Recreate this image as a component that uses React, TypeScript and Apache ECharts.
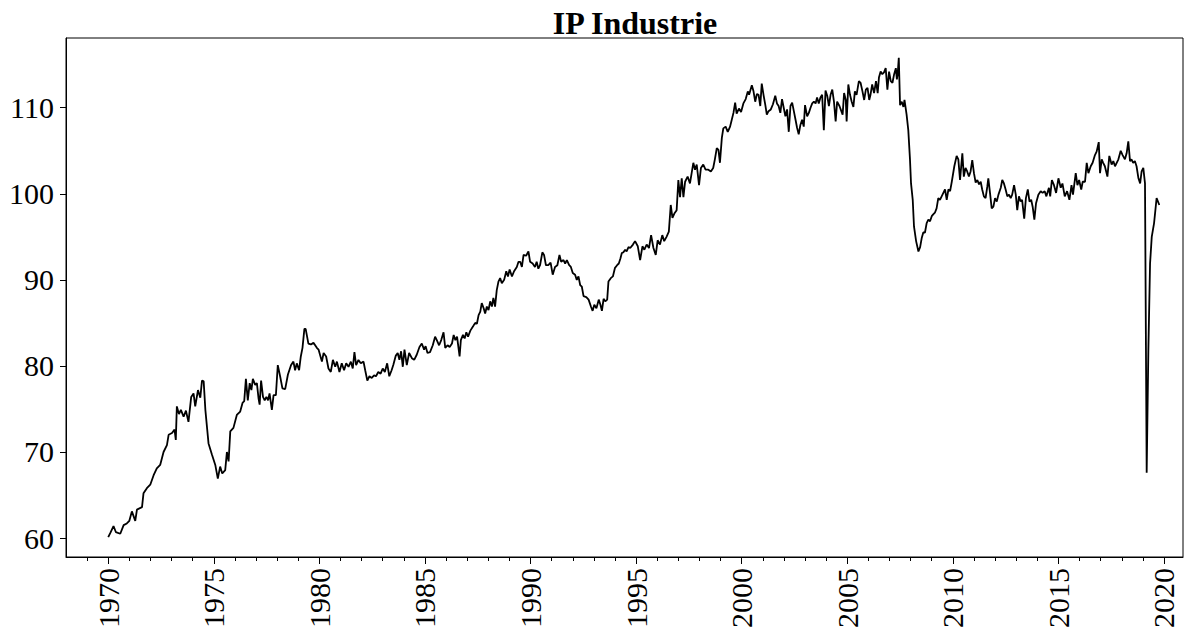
import React, { useEffect, useRef } from "react";
import * as echarts from "echarts";

const title = "IP Industrie";
const yTicks = [60, 70, 80, 90, 100, 110];
const xMajor = [1970, 1975, 1980, 1985, 1990, 1995, 2000, 2005, 2010, 2015, 2020];
const xMinor = Array.from({ length: 52 }, (_, i) => 1969 + i).filter((y) => y % 5 !== 0);

// [fractional year on the axis, index value]
const seg1970s: [number, number][] = [
  [1970.0, 60.1], [1970.1, 60.6], [1970.25, 61.4], [1970.36, 60.7], [1970.57, 60.5], [1970.73, 61.5],
  [1970.88, 61.7], [1971.0, 62.0], [1971.12, 63.1], [1971.28, 62.0], [1971.36, 63.3], [1971.6, 63.6],
  [1971.67, 65.2], [1971.83, 65.8], [1971.99, 66.2], [1972.15, 67.3], [1972.3, 68.1], [1972.46, 68.5],
  [1972.62, 70.0], [1972.78, 70.8], [1972.86, 72.0], [1973.02, 72.2], [1973.14, 72.6], [1973.2, 71.4],
  [1973.25, 75.3], [1973.35, 74.4], [1973.44, 74.9], [1973.57, 74.1], [1973.68, 74.8], [1973.8, 73.5],
  [1973.93, 76.4], [1974.04, 76.8], [1974.12, 75.3], [1974.25, 77.2], [1974.36, 76.3], [1974.44, 78.3],
  [1974.52, 78.2], [1974.6, 74.9], [1974.75, 71.0], [1974.91, 69.7], [1975.07, 68.5], [1975.19, 66.9],
  [1975.3, 68.3], [1975.4, 67.5], [1975.54, 67.9], [1975.62, 70.0], [1975.7, 68.9], [1975.78, 72.4],
  [1975.93, 72.8], [1976.09, 74.3], [1976.25, 74.7], [1976.36, 75.7], [1976.44, 75.9], [1976.52, 78.5],
  [1976.61, 76.0], [1976.7, 78.0], [1976.78, 77.2], [1976.85, 78.5], [1976.96, 77.8], [1977.04, 78.0],
  [1977.12, 76.2], [1977.17, 75.5], [1977.24, 78.3], [1977.33, 76.4], [1977.41, 76.0], [1977.49, 76.4],
  [1977.57, 76.0], [1977.64, 76.8], [1977.75, 74.9], [1977.83, 76.6], [1977.94, 76.6], [1978.03, 80.1],
  [1978.14, 78.8], [1978.25, 77.4], [1978.38, 77.3], [1978.51, 79.0], [1978.66, 80.1], [1978.77, 80.5],
  [1978.85, 79.5], [1978.93, 80.3], [1979.04, 79.5], [1979.12, 81.1], [1979.2, 82.1], [1979.29, 84.3],
  [1979.35, 84.3], [1979.48, 82.6], [1979.6, 82.5], [1979.72, 82.7], [1979.88, 82.1],
];

const seg1980s: [number, number][] = [
  [1979.96, 81.9], [1980.12, 80.5], [1980.2, 81.5], [1980.32, 81.1], [1980.43, 79.7], [1980.54, 79.3],
  [1980.64, 80.7], [1980.75, 79.9], [1980.83, 80.5], [1980.95, 79.3], [1981.06, 80.3], [1981.17, 79.5],
  [1981.27, 80.3], [1981.38, 79.9], [1981.49, 80.5], [1981.58, 79.7], [1981.66, 81.6], [1981.74, 80.1],
  [1981.85, 80.7], [1981.96, 80.3], [1982.09, 80.5], [1982.17, 79.5], [1982.27, 78.3], [1982.37, 78.8],
  [1982.48, 78.6], [1982.59, 78.9], [1982.68, 78.8], [1982.79, 79.3], [1982.9, 79.1], [1983.0, 79.7],
  [1983.1, 79.3], [1983.21, 80.3], [1983.31, 78.8], [1983.42, 79.5], [1983.5, 80.1], [1983.62, 81.2],
  [1983.71, 81.5], [1983.79, 80.7], [1983.87, 81.7], [1983.95, 79.9], [1984.03, 81.9], [1984.14, 80.1],
  [1984.25, 81.5], [1984.38, 80.9], [1984.49, 80.7], [1984.61, 81.3], [1984.74, 82.2], [1984.85, 82.6],
  [1984.96, 81.9], [1985.03, 82.3], [1985.12, 81.5], [1985.24, 81.6], [1985.37, 82.4], [1985.48, 83.4],
  [1985.56, 83.0], [1985.67, 82.4], [1985.77, 83.0], [1985.88, 83.9], [1985.96, 82.1], [1986.07, 82.4],
  [1986.17, 82.2], [1986.28, 82.6], [1986.36, 83.6], [1986.44, 83.0], [1986.52, 83.4], [1986.64, 81.1],
  [1986.7, 83.0], [1986.8, 83.6], [1986.88, 83.2], [1986.96, 83.9], [1987.04, 83.4], [1987.15, 84.1],
  [1987.28, 84.6], [1987.38, 85.0], [1987.46, 84.9], [1987.54, 85.9], [1987.62, 86.3], [1987.69, 87.3],
  [1987.78, 86.7], [1987.85, 86.1], [1987.93, 86.9], [1988.01, 86.5], [1988.09, 87.5], [1988.17, 86.9],
  [1988.24, 87.9], [1988.32, 86.9], [1988.4, 88.8], [1988.48, 89.8], [1988.56, 90.2], [1988.64, 89.6],
  [1988.75, 90.0], [1988.85, 91.0], [1988.93, 90.4], [1989.01, 91.2], [1989.12, 90.4], [1989.22, 91.0],
  [1989.35, 91.5], [1989.43, 92.1],
];

const seg1990s: [number, number][] = [
  [1989.51, 92.1], [1989.59, 91.5], [1989.67, 92.9], [1989.79, 92.8], [1989.9, 93.3], [1989.98, 92.1],
  [1990.1, 91.9], [1990.21, 91.5], [1990.29, 92.1], [1990.37, 91.3], [1990.45, 91.7], [1990.56, 93.2],
  [1990.64, 92.9], [1990.73, 91.7], [1990.84, 91.7], [1990.95, 92.0], [1991.05, 90.6], [1991.16, 91.5],
  [1991.27, 91.7], [1991.37, 92.9], [1991.45, 92.1], [1991.56, 92.3], [1991.64, 91.9], [1991.72, 92.3],
  [1991.83, 91.7], [1991.91, 91.5], [1992.0, 90.8], [1992.11, 90.6], [1992.19, 90.0], [1992.27, 90.4],
  [1992.35, 89.4], [1992.43, 89.2], [1992.51, 88.1], [1992.64, 88.0], [1992.75, 87.7], [1992.86, 86.9],
  [1992.94, 86.4], [1993.02, 87.1], [1993.12, 86.7], [1993.23, 87.7], [1993.31, 87.1], [1993.38, 86.4],
  [1993.46, 87.8], [1993.54, 87.5], [1993.63, 87.7], [1993.69, 89.8], [1993.8, 90.2], [1993.9, 90.4],
  [1994.0, 91.4], [1994.1, 91.7], [1994.18, 91.9], [1994.26, 92.5], [1994.32, 93.1], [1994.4, 93.2],
  [1994.48, 93.5], [1994.55, 93.3], [1994.64, 93.8], [1994.72, 93.7], [1994.85, 94.1], [1994.95, 94.5],
  [1995.08, 93.9], [1995.19, 92.3], [1995.3, 93.9], [1995.39, 93.5], [1995.5, 94.1], [1995.61, 93.7],
  [1995.71, 95.2], [1995.82, 93.7], [1995.93, 92.9], [1996.02, 94.6], [1996.13, 94.1], [1996.24, 95.2],
  [1996.33, 94.5], [1996.44, 95.0], [1996.55, 95.6], [1996.64, 98.7], [1996.72, 97.2], [1996.81, 97.7],
  [1996.92, 98.1], [1997.0, 101.6], [1997.08, 99.6], [1997.16, 101.8], [1997.24, 99.6], [1997.32, 101.4],
  [1997.44, 102.0], [1997.55, 101.2], [1997.63, 102.4], [1997.71, 103.6], [1997.79, 102.8], [1997.87, 103.4],
  [1997.98, 101.0], [1998.07, 103.0], [1998.18, 103.4], [1998.29, 102.8], [1998.42, 102.8], [1998.54, 102.6],
  [1998.65, 103.0], [1998.73, 104.0], [1998.82, 105.3], [1998.9, 105.1], [1998.97, 103.6], [1999.06, 106.5],
  [1999.13, 107.6], [1999.24, 107.8], [1999.34, 107.2], [1999.45, 107.8], [1999.53, 108.6], [1999.61, 109.4],
  [1999.69, 110.6],
];

const seg2000s: [number, number][] = [
  [1999.76, 109.3], [1999.87, 109.9], [1999.97, 109.5], [2000.08, 110.5], [2000.19, 111.0], [2000.29, 111.9],
  [2000.35, 111.5], [2000.48, 112.6], [2000.56, 111.9], [2000.64, 110.7], [2000.72, 111.6], [2000.8, 111.5],
  [2000.88, 110.2], [2000.95, 112.8], [2001.04, 111.4], [2001.12, 110.3], [2001.19, 109.2], [2001.27, 109.6],
  [2001.38, 109.8], [2001.48, 110.4], [2001.59, 111.4], [2001.67, 110.5], [2001.75, 110.2], [2001.83, 109.4],
  [2001.91, 111.0], [2001.99, 110.0], [2002.07, 109.0], [2002.15, 109.8], [2002.23, 107.2], [2002.31, 110.2],
  [2002.39, 110.6], [2002.47, 109.6], [2002.55, 108.6], [2002.62, 107.7], [2002.7, 106.9], [2002.78, 108.0],
  [2002.86, 108.6], [2002.94, 107.8], [2003.0, 110.3], [2003.1, 109.0], [2003.18, 109.4], [2003.26, 110.0],
  [2003.34, 110.5], [2003.42, 110.7], [2003.5, 110.5], [2003.57, 111.2], [2003.65, 110.5], [2003.73, 111.2],
  [2003.81, 111.5], [2003.89, 107.4], [2003.97, 112.0], [2004.05, 111.4], [2004.13, 110.2], [2004.21, 111.5],
  [2004.29, 112.1], [2004.37, 110.7], [2004.45, 108.4], [2004.52, 110.7], [2004.63, 110.2], [2004.78, 109.2],
  [2004.85, 111.7], [2004.93, 110.9], [2004.97, 108.4], [2005.05, 112.7], [2005.13, 111.5], [2005.21, 110.7],
  [2005.29, 110.1], [2005.36, 111.9], [2005.44, 111.5], [2005.55, 113.1], [2005.63, 112.9], [2005.72, 111.9],
  [2005.8, 110.9], [2005.88, 112.1], [2005.96, 112.3], [2006.04, 110.9], [2006.1, 111.5], [2006.18, 112.7],
  [2006.27, 111.7], [2006.36, 113.1], [2006.44, 111.7], [2006.5, 113.5], [2006.58, 114.2], [2006.66, 113.9],
  [2006.74, 114.1], [2006.82, 114.6], [2006.9, 112.1], [2006.98, 114.2], [2007.06, 113.1], [2007.14, 112.9],
  [2007.22, 113.9], [2007.3, 114.6], [2007.35, 113.3], [2007.39, 114.0], [2007.44, 115.8], [2007.5, 110.3],
  [2007.58, 110.7], [2007.66, 110.1], [2007.71, 110.9], [2007.81, 109.2], [2007.89, 107.4], [2007.97, 104.0],
  [2008.02, 101.2], [2008.1, 99.3], [2008.16, 96.2], [2008.26, 94.5], [2008.37, 93.3], [2008.45, 93.8],
  [2008.53, 94.9], [2008.6, 95.5], [2008.68, 95.5], [2008.76, 96.6], [2008.84, 97.0], [2008.92, 96.8],
  [2009.0, 97.4], [2009.07, 97.6], [2009.15, 97.8], [2009.23, 98.3], [2009.31, 99.5], [2009.39, 99.3],
  [2009.47, 99.7], [2009.55, 100.1], [2009.63, 100.5], [2009.71, 99.3], [2009.79, 100.5], [2009.87, 100.3],
  [2009.95, 101.4],
];

const seg2010s: [number, number][] = [
  [2010.07, 103.2], [2010.18, 104.4], [2010.26, 104.0], [2010.34, 101.6], [2010.45, 104.7], [2010.52, 102.0],
  [2010.6, 103.0], [2010.68, 102.6], [2010.76, 102.0], [2010.84, 102.6], [2010.92, 103.9], [2011.0, 102.4],
  [2011.08, 101.3], [2011.16, 101.6], [2011.24, 101.1], [2011.32, 101.4], [2011.39, 100.5], [2011.47, 99.7],
  [2011.55, 99.5], [2011.63, 100.8], [2011.68, 101.8], [2011.76, 100.1], [2011.84, 98.3], [2011.92, 98.5],
  [2012.0, 99.5], [2012.08, 99.1], [2012.16, 99.9], [2012.27, 100.7], [2012.34, 101.6], [2012.42, 101.2],
  [2012.5, 100.5], [2012.58, 99.7], [2012.66, 99.9], [2012.74, 99.5], [2012.81, 99.9], [2012.9, 101.0],
  [2012.98, 99.9], [2013.05, 98.1], [2013.13, 99.7], [2013.21, 99.1], [2013.28, 99.3], [2013.38, 97.1],
  [2013.46, 99.5], [2013.55, 100.5], [2013.63, 99.1], [2013.71, 99.3], [2013.78, 98.5], [2013.86, 97.0],
  [2013.94, 98.9], [2014.05, 99.9], [2014.16, 100.3], [2014.25, 100.1], [2014.35, 100.3], [2014.43, 99.7],
  [2014.55, 100.7], [2014.61, 99.7], [2014.69, 101.6], [2014.79, 101.0], [2014.89, 100.1], [2015.0, 101.8],
  [2015.11, 100.7], [2015.19, 101.2], [2015.3, 99.7], [2015.41, 100.3], [2015.52, 99.3], [2015.62, 101.0],
  [2015.69, 99.9], [2015.82, 102.4], [2015.9, 101.0], [2015.98, 101.6], [2016.08, 100.5], [2016.15, 101.4],
  [2016.26, 101.4], [2016.34, 103.6], [2016.42, 102.4], [2016.53, 103.2], [2016.62, 103.6], [2016.73, 104.5],
  [2016.81, 104.9], [2016.91, 106.0], [2016.97, 102.4], [2017.05, 104.0], [2017.12, 103.6], [2017.2, 103.2],
  [2017.32, 102.0], [2017.41, 104.4], [2017.52, 103.4], [2017.6, 103.8], [2017.68, 103.2], [2017.76, 103.6],
  [2017.84, 104.0], [2017.95, 105.0], [2018.04, 104.5], [2018.15, 104.0], [2018.23, 104.7], [2018.31, 106.1],
  [2018.39, 103.8], [2018.46, 104.0], [2018.54, 103.6], [2018.62, 103.8], [2018.7, 103.2], [2018.79, 101.8],
  [2018.87, 101.2], [2018.94, 102.6], [2019.02, 103.0], [2019.1, 101.2], [2019.18, 67.6], [2019.26, 81.9],
  [2019.34, 91.9], [2019.42, 95.0], [2019.53, 96.6], [2019.65, 99.5], [2019.78, 98.7],
];

const series = [...seg1970s, ...seg1980s, ...seg1990s, ...seg2000s, ...seg2010s];

const FONT = "Liberation Serif";

export default function App() {
  const ref = useRef<HTMLDivElement>(null);
  useEffect(() => {
    if (!ref.current) return;
    const chart = echarts.init(ref.current, null, { renderer: "svg" });
    const xMin = 1968.0;
    const xMax = 2020.9;
    chart.setOption({
      animation: false,
      backgroundColor: "#ffffff",
      title: {
        text: title,
        left: 630,
        textAlign: "center",
        top: 2,
        textStyle: { fontFamily: FONT, fontWeight: "bold", fontSize: 32, color: "#000" },
      },
      grid: {
        left: 66,
        right: 17,
        top: 38,
        bottom: 80,
        show: true,
        borderColor: "#000",
        borderWidth: 1,
        backgroundColor: "transparent",
      },
      xAxis: [
        {
          type: "value",
          min: xMin,
          max: xMax,
          axisLine: { show: true, onZero: false, lineStyle: { color: "#000", width: 1 } },
          axisTick: { show: true, customValues: xMajor, length: 7, lineStyle: { color: "#000", width: 1 } },
          axisLabel: {
            customValues: xMajor,
            rotate: 90,
            margin: 11,
            fontFamily: FONT,
            fontSize: 30,
            color: "#000",
            formatter: (v: number) => String(Math.round(v)),
          },
          splitLine: { show: false },
        },
        {
          type: "value",
          position: "bottom",
          min: xMin,
          max: xMax,
          axisLine: { show: false },
          axisTick: { show: true, customValues: xMinor, length: 4, lineStyle: { color: "#000", width: 1 } },
          axisLabel: { show: false },
          splitLine: { show: false },
        },
      ],
      yAxis: {
        type: "value",
        min: 57.8,
        max: 118.1,
        axisLine: { show: true, onZero: false, lineStyle: { color: "#000", width: 1 } },
        axisTick: { show: true, customValues: yTicks, length: 6, lineStyle: { color: "#000", width: 1 } },
        axisLabel: {
          customValues: yTicks,
          margin: 12,
          fontFamily: FONT,
          fontSize: 30,
          color: "#000",
        },
        splitLine: { show: false },
      },
      series: [
        {
          type: "line",
          data: series,
          xAxisIndex: 0,
          showSymbol: false,
          symbol: "none",
          lineStyle: { color: "#000", width: 1.8 },
        },
      ],
    });
    return () => chart.dispose();
  }, []);
  return (
    <div
      ref={ref}
      style={{ position: "fixed", left: 0, top: 0, width: 1200, height: 637, background: "#fff" }}
    />
  );
}
